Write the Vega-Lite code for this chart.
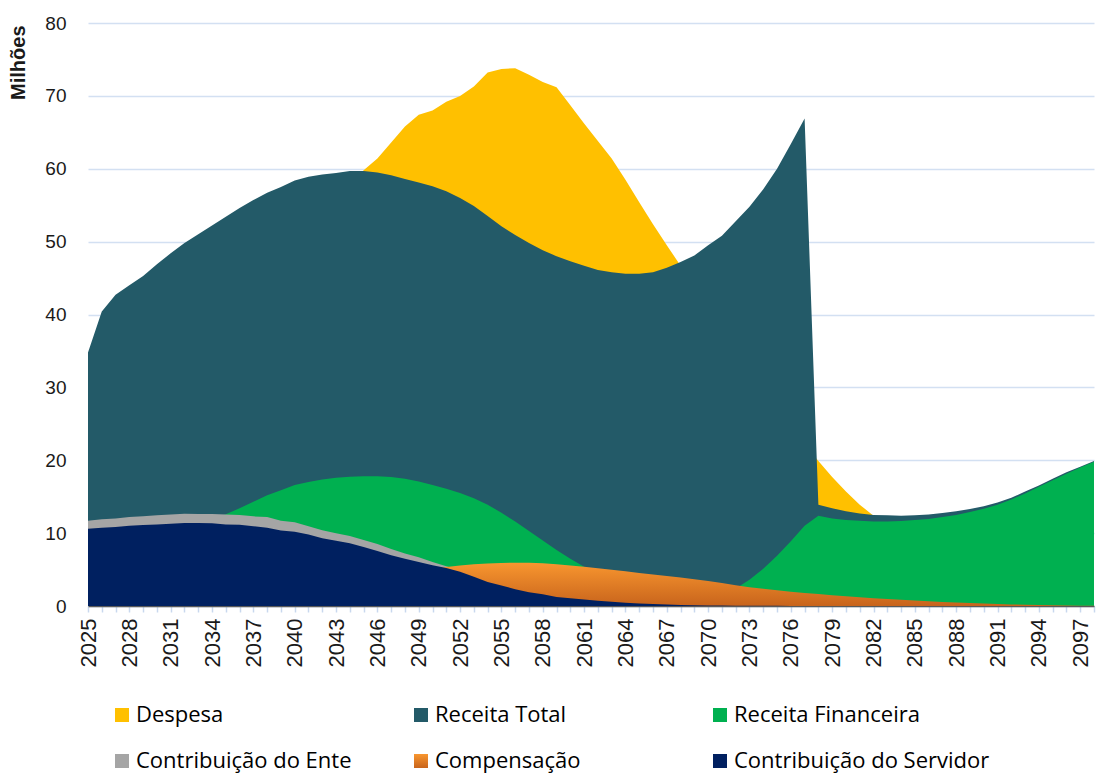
{
  "$schema": "https://vega.github.io/schema/vega-lite/v6.json",
  "autosize": {"type": "none"},
  "padding": {"left": 88, "top": 23, "right": 2, "bottom": 172},
  "width": 1006,
  "height": 583,
  "background": "white",
  "config": {
    "view": {"stroke": null},
    "axis": {"labelFont": "Liberation Sans", "titleFont": "Liberation Sans", "labelColor": "#1a1a1a", "titleColor": "#1a1a1a"},
    "axisY": {"labelFontSize": 19, "labelPadding": 22, "domain": false, "ticks": false, "gridColor": "#D3E0F2", "gridWidth": 1.5, "titleFontSize": 20, "titleFontWeight": "bold", "titleAngle": -90, "titleX": -70, "titleY": 2, "titleAlign": "right", "titleBaseline": "middle"},
    "axisX": {"labelFontSize": 22, "labelPadding": 6, "labelAngle": -90, "labelOverlap": false, "labelFlush": false, "grid": false, "domainColor": "#595959", "domainWidth": 1.5, "tickColor": "#C9D8EE", "tickWidth": 1.5, "tickSize": 6},
    "legend": {"orient": "none", "legendX": 23, "legendY": 681, "direction": "horizontal", "columns": 3, "symbolType": "square", "symbolSize": 196, "symbolStrokeWidth": 0, "symbolOpacity": 1, "labelFont": "Open Sans", "labelFontSize": 22, "labelColor": "#000000", "labelOffset": 3, "columnPadding": 18, "rowPadding": 24, "labelLimit": 400, "gridAlign": "all"}
  },
  "data": {"values": [
    {"ano":2025,"despesa":22.0,"receita_total":34.8,"receita_fin":5.0,"contrib_ente":11.7,"compensacao":3.0,"contrib_servidor":10.6},
    {"ano":2026,"despesa":23.5,"receita_total":40.4,"receita_fin":5.8,"contrib_ente":11.9,"compensacao":3.1,"contrib_servidor":10.75},
    {"ano":2027,"despesa":25.0,"receita_total":42.7,"receita_fin":6.6,"contrib_ente":12.0,"compensacao":3.2,"contrib_servidor":10.85},
    {"ano":2028,"despesa":26.5,"receita_total":44.0,"receita_fin":7.4,"contrib_ente":12.2,"compensacao":3.3,"contrib_servidor":11.0},
    {"ano":2029,"despesa":28.0,"receita_total":45.3,"receita_fin":8.2,"contrib_ente":12.3,"compensacao":3.4,"contrib_servidor":11.1},
    {"ano":2030,"despesa":29.5,"receita_total":46.9,"receita_fin":9.0,"contrib_ente":12.45,"compensacao":3.5,"contrib_servidor":11.2},
    {"ano":2031,"despesa":31.0,"receita_total":48.4,"receita_fin":9.8,"contrib_ente":12.55,"compensacao":3.6,"contrib_servidor":11.3},
    {"ano":2032,"despesa":32.7,"receita_total":49.8,"receita_fin":10.6,"contrib_ente":12.65,"compensacao":3.7,"contrib_servidor":11.4},
    {"ano":2033,"despesa":34.4,"receita_total":51.0,"receita_fin":11.3,"contrib_ente":12.62,"compensacao":3.8,"contrib_servidor":11.4},
    {"ano":2034,"despesa":36.2,"receita_total":52.2,"receita_fin":11.9,"contrib_ente":12.62,"compensacao":3.9,"contrib_servidor":11.35},
    {"ano":2035,"despesa":38.0,"receita_total":53.4,"receita_fin":12.6,"contrib_ente":12.57,"compensacao":4.0,"contrib_servidor":11.2},
    {"ano":2036,"despesa":40.0,"receita_total":54.6,"receita_fin":13.4,"contrib_ente":12.5,"compensacao":4.1,"contrib_servidor":11.15},
    {"ano":2037,"despesa":42.0,"receita_total":55.7,"receita_fin":14.3,"contrib_ente":12.3,"compensacao":4.2,"contrib_servidor":10.95},
    {"ano":2038,"despesa":44.0,"receita_total":56.7,"receita_fin":15.2,"contrib_ente":12.2,"compensacao":4.3,"contrib_servidor":10.75},
    {"ano":2039,"despesa":46.0,"receita_total":57.5,"receita_fin":15.9,"contrib_ente":11.7,"compensacao":4.35,"contrib_servidor":10.35},
    {"ano":2040,"despesa":48.3,"receita_total":58.4,"receita_fin":16.6,"contrib_ente":11.5,"compensacao":4.4,"contrib_servidor":10.2},
    {"ano":2041,"despesa":50.6,"receita_total":58.9,"receita_fin":17.0,"contrib_ente":10.95,"compensacao":4.5,"contrib_servidor":9.8},
    {"ano":2042,"despesa":53.0,"receita_total":59.2,"receita_fin":17.35,"contrib_ente":10.4,"compensacao":4.6,"contrib_servidor":9.3},
    {"ano":2043,"despesa":55.3,"receita_total":59.4,"receita_fin":17.6,"contrib_ente":10.0,"compensacao":4.7,"contrib_servidor":8.95},
    {"ano":2044,"despesa":57.5,"receita_total":59.7,"receita_fin":17.75,"contrib_ente":9.6,"compensacao":4.75,"contrib_servidor":8.6},
    {"ano":2045,"despesa":59.8,"receita_total":59.7,"receita_fin":17.8,"contrib_ente":9.06,"compensacao":4.8,"contrib_servidor":8.1},
    {"ano":2046,"despesa":61.4,"receita_total":59.5,"receita_fin":17.8,"contrib_ente":8.5,"compensacao":4.85,"contrib_servidor":7.55},
    {"ano":2047,"despesa":63.6,"receita_total":59.1,"receita_fin":17.7,"contrib_ente":7.82,"compensacao":4.9,"contrib_servidor":6.95},
    {"ano":2048,"despesa":65.8,"receita_total":58.6,"receita_fin":17.45,"contrib_ente":7.2,"compensacao":5.0,"contrib_servidor":6.5},
    {"ano":2049,"despesa":67.4,"receita_total":58.1,"receita_fin":17.1,"contrib_ente":6.68,"compensacao":5.05,"contrib_servidor":6.03},
    {"ano":2050,"despesa":68.0,"receita_total":57.6,"receita_fin":16.6,"contrib_ente":6.04,"compensacao":5.1,"contrib_servidor":5.58},
    {"ano":2051,"despesa":69.2,"receita_total":56.9,"receita_fin":16.1,"contrib_ente":5.44,"compensacao":5.35,"contrib_servidor":5.2},
    {"ano":2052,"despesa":70.0,"receita_total":56.0,"receita_fin":15.5,"contrib_ente":4.9,"compensacao":5.55,"contrib_servidor":4.7},
    {"ano":2053,"despesa":71.3,"receita_total":54.9,"receita_fin":14.8,"contrib_ente":4.3,"compensacao":5.72,"contrib_servidor":4.0},
    {"ano":2054,"despesa":73.2,"receita_total":53.5,"receita_fin":13.9,"contrib_ente":3.7,"compensacao":5.82,"contrib_servidor":3.3},
    {"ano":2055,"despesa":73.7,"receita_total":52.1,"receita_fin":12.8,"contrib_ente":3.1,"compensacao":5.9,"contrib_servidor":2.8},
    {"ano":2056,"despesa":73.8,"receita_total":50.9,"receita_fin":11.6,"contrib_ente":2.6,"compensacao":5.95,"contrib_servidor":2.3},
    {"ano":2057,"despesa":72.9,"receita_total":49.8,"receita_fin":10.3,"contrib_ente":2.1,"compensacao":5.92,"contrib_servidor":1.9},
    {"ano":2058,"despesa":71.9,"receita_total":48.8,"receita_fin":9.0,"contrib_ente":1.7,"compensacao":5.85,"contrib_servidor":1.6},
    {"ano":2059,"despesa":71.2,"receita_total":48.0,"receita_fin":7.7,"contrib_ente":1.4,"compensacao":5.72,"contrib_servidor":1.25},
    {"ano":2060,"despesa":68.7,"receita_total":47.3,"receita_fin":6.5,"contrib_ente":1.1,"compensacao":5.55,"contrib_servidor":1.05},
    {"ano":2061,"despesa":66.2,"receita_total":46.7,"receita_fin":5.4,"contrib_ente":0.9,"compensacao":5.38,"contrib_servidor":0.9},
    {"ano":2062,"despesa":63.8,"receita_total":46.1,"receita_fin":4.4,"contrib_ente":0.7,"compensacao":5.18,"contrib_servidor":0.72},
    {"ano":2063,"despesa":61.4,"receita_total":45.8,"receita_fin":3.5,"contrib_ente":0.55,"compensacao":4.98,"contrib_servidor":0.58},
    {"ano":2064,"despesa":58.5,"receita_total":45.6,"receita_fin":2.7,"contrib_ente":0.45,"compensacao":4.76,"contrib_servidor":0.46},
    {"ano":2065,"despesa":55.4,"receita_total":45.6,"receita_fin":2.0,"contrib_ente":0.35,"compensacao":4.54,"contrib_servidor":0.36},
    {"ano":2066,"despesa":52.4,"receita_total":45.8,"receita_fin":1.4,"contrib_ente":0.27,"compensacao":4.33,"contrib_servidor":0.28},
    {"ano":2067,"despesa":49.5,"receita_total":46.4,"receita_fin":1.0,"contrib_ente":0.2,"compensacao":4.12,"contrib_servidor":0.21},
    {"ano":2068,"despesa":46.7,"receita_total":47.2,"receita_fin":0.8,"contrib_ente":0.15,"compensacao":3.9,"contrib_servidor":0.15},
    {"ano":2069,"despesa":43.9,"receita_total":48.1,"receita_fin":0.8,"contrib_ente":0.1,"compensacao":3.66,"contrib_servidor":0.11},
    {"ano":2070,"despesa":41.1,"receita_total":49.5,"receita_fin":1.0,"contrib_ente":0.08,"compensacao":3.42,"contrib_servidor":0.08},
    {"ano":2071,"despesa":38.3,"receita_total":50.8,"receita_fin":1.5,"contrib_ente":0.06,"compensacao":3.15,"contrib_servidor":0.06},
    {"ano":2072,"despesa":35.5,"receita_total":52.8,"receita_fin":2.4,"contrib_ente":0.05,"compensacao":2.85,"contrib_servidor":0.04},
    {"ano":2073,"despesa":32.7,"receita_total":54.8,"receita_fin":3.6,"contrib_ente":0.04,"compensacao":2.58,"contrib_servidor":0.03},
    {"ano":2074,"despesa":29.9,"receita_total":57.2,"receita_fin":5.1,"contrib_ente":0.03,"compensacao":2.36,"contrib_servidor":0.02},
    {"ano":2075,"despesa":27.2,"receita_total":60.0,"receita_fin":6.9,"contrib_ente":0.02,"compensacao":2.16,"contrib_servidor":0.02},
    {"ano":2076,"despesa":24.6,"receita_total":63.4,"receita_fin":8.9,"contrib_ente":0.02,"compensacao":1.97,"contrib_servidor":0.01},
    {"ano":2077,"despesa":22.2,"receita_total":66.9,"receita_fin":11.0,"contrib_ente":0.01,"compensacao":1.8,"contrib_servidor":0.01},
    {"ano":2078,"despesa":19.9,"receita_total":13.9,"receita_fin":12.4,"contrib_ente":0.01,"compensacao":1.64,"contrib_servidor":0.01},
    {"ano":2079,"despesa":17.7,"receita_total":13.4,"receita_fin":12.0,"contrib_ente":0.01,"compensacao":1.49,"contrib_servidor":0},
    {"ano":2080,"despesa":15.7,"receita_total":13.0,"receita_fin":11.8,"contrib_ente":0,"compensacao":1.35,"contrib_servidor":0},
    {"ano":2081,"despesa":13.9,"receita_total":12.7,"receita_fin":11.7,"contrib_ente":0,"compensacao":1.21,"contrib_servidor":0},
    {"ano":2082,"despesa":12.4,"receita_total":12.5,"receita_fin":11.6,"contrib_ente":0,"compensacao":1.08,"contrib_servidor":0},
    {"ano":2083,"despesa":11.2,"receita_total":12.45,"receita_fin":11.6,"contrib_ente":0,"compensacao":0.96,"contrib_servidor":0},
    {"ano":2084,"despesa":10.1,"receita_total":12.4,"receita_fin":11.65,"contrib_ente":0,"compensacao":0.85,"contrib_servidor":0},
    {"ano":2085,"despesa":9.1,"receita_total":12.45,"receita_fin":11.8,"contrib_ente":0,"compensacao":0.75,"contrib_servidor":0},
    {"ano":2086,"despesa":8.2,"receita_total":12.55,"receita_fin":11.95,"contrib_ente":0,"compensacao":0.65,"contrib_servidor":0},
    {"ano":2087,"despesa":7.4,"receita_total":12.75,"receita_fin":12.2,"contrib_ente":0,"compensacao":0.56,"contrib_servidor":0},
    {"ano":2088,"despesa":6.6,"receita_total":13.0,"receita_fin":12.5,"contrib_ente":0,"compensacao":0.48,"contrib_servidor":0},
    {"ano":2089,"despesa":5.9,"receita_total":13.3,"receita_fin":12.9,"contrib_ente":0,"compensacao":0.41,"contrib_servidor":0},
    {"ano":2090,"despesa":5.3,"receita_total":13.7,"receita_fin":13.35,"contrib_ente":0,"compensacao":0.34,"contrib_servidor":0},
    {"ano":2091,"despesa":4.7,"receita_total":14.2,"receita_fin":13.9,"contrib_ente":0,"compensacao":0.28,"contrib_servidor":0},
    {"ano":2092,"despesa":4.2,"receita_total":14.85,"receita_fin":14.6,"contrib_ente":0,"compensacao":0.22,"contrib_servidor":0},
    {"ano":2093,"despesa":3.7,"receita_total":15.7,"receita_fin":15.45,"contrib_ente":0,"compensacao":0.17,"contrib_servidor":0},
    {"ano":2094,"despesa":3.3,"receita_total":16.55,"receita_fin":16.35,"contrib_ente":0,"compensacao":0.13,"contrib_servidor":0},
    {"ano":2095,"despesa":2.9,"receita_total":17.45,"receita_fin":17.25,"contrib_ente":0,"compensacao":0.1,"contrib_servidor":0},
    {"ano":2096,"despesa":2.6,"receita_total":18.35,"receita_fin":18.15,"contrib_ente":0,"compensacao":0.07,"contrib_servidor":0},
    {"ano":2097,"despesa":2.3,"receita_total":19.1,"receita_fin":19.0,"contrib_ente":0,"compensacao":0.05,"contrib_servidor":0},
    {"ano":2098,"despesa":2.0,"receita_total":19.9,"receita_fin":19.8,"contrib_ente":0,"compensacao":0.03,"contrib_servidor":0}
  ]},
  "encoding": {
    "x": {"field": "ano", "type": "quantitative", "scale": {"domain": [2025, 2098], "nice": false, "zero": false},
      "axis": {"title": null, "format": "d",
        "values": [2025,2026,2027,2028,2029,2030,2031,2032,2033,2034,2035,2036,2037,2038,2039,2040,2041,2042,2043,2044,2045,2046,2047,2048,2049,2050,2051,2052,2053,2054,2055,2056,2057,2058,2059,2060,2061,2062,2063,2064,2065,2066,2067,2068,2069,2070,2071,2072,2073,2074,2075,2076,2077,2078,2079,2080,2081,2082,2083,2084,2085,2086,2087,2088,2089,2090,2091,2092,2093,2094,2095,2096,2097,2098],
        "labelExpr": "(datum.value - 2025) % 3 == 0 ? datum.label : ''"}}
  },
  "layer": [
    {"mark": {"type": "area", "opacity": 1, "interpolate": "linear"},
     "encoding": {
       "y": {"field": "despesa", "type": "quantitative", "scale": {"domain": [0, 80], "nice": false}, "axis": {"title": "Milhões", "values": [0,10,20,30,40,50,60,70,80]}},
       "color": {"datum": "Despesa", "type": "nominal",
         "scale": {"domain": ["Despesa", "Receita Total", "Receita Financeira", "Contribuição do Ente", "Compensação", "Contribuição do Servidor"],
           "range": ["#FFC000", "#235A68", "#00B050", "#A5A5A5", {"expr": "{gradient: 'linear', x1: 0, y1: 0, x2: 0, y2: 1, stops: [{offset: 0, color: '#F8962F'}, {offset: 1, color: '#C8641C'}]}"}, "#002060"]},
         "legend": {"title": null}}
     }},
    {"mark": {"type": "area", "opacity": 1, "interpolate": "linear"},
     "encoding": {
       "y": {"field": "receita_total", "type": "quantitative", "title": "Milhões"},
       "color": {"datum": "Receita Total", "type": "nominal"}
     }},
    {"mark": {"type": "area", "opacity": 1, "interpolate": "linear"},
     "encoding": {
       "y": {"field": "receita_fin", "type": "quantitative", "title": "Milhões"},
       "color": {"datum": "Receita Financeira", "type": "nominal"}
     }},
    {"mark": {"type": "area", "opacity": 1, "interpolate": "linear"},
     "encoding": {
       "y": {"field": "contrib_ente", "type": "quantitative", "title": "Milhões"},
       "color": {"datum": "Contribuição do Ente", "type": "nominal"}
     }},
    {"mark": {"type": "area", "opacity": 1, "interpolate": "linear"},
     "encoding": {
       "y": {"field": "compensacao", "type": "quantitative", "title": "Milhões"},
       "color": {"datum": "Compensação", "type": "nominal"}
     }},
    {"mark": {"type": "area", "opacity": 1, "interpolate": "linear"},
     "encoding": {
       "y": {"field": "contrib_servidor", "type": "quantitative", "title": "Milhões"},
       "color": {"datum": "Contribuição do Servidor", "type": "nominal"}
     }}
  ]
}
